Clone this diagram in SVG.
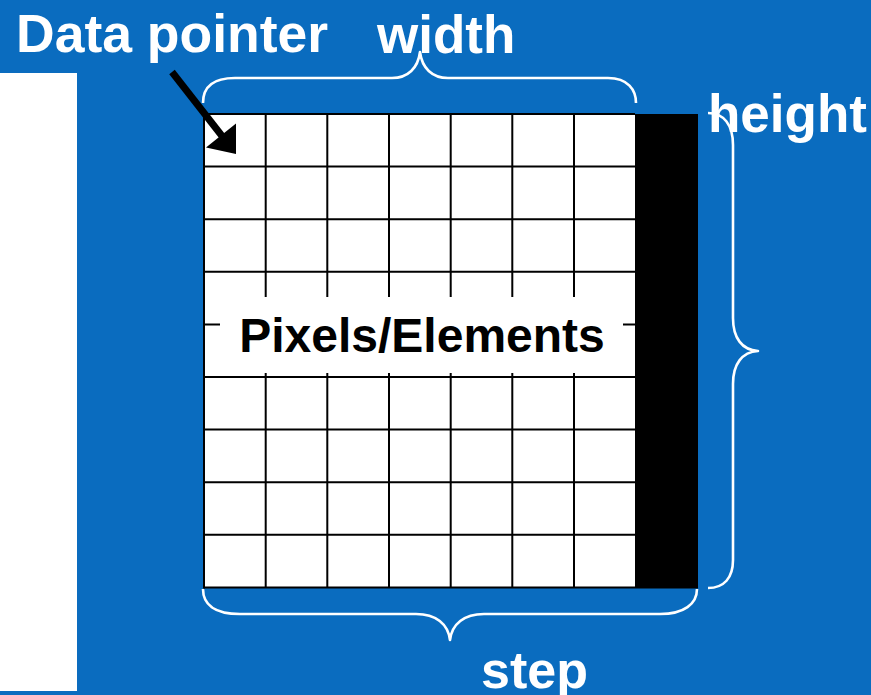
<svg xmlns="http://www.w3.org/2000/svg" width="871" height="695" viewBox="0 0 871 695">
  <style>
    .lbl { font-family: "Liberation Sans", Arial, sans-serif; font-weight: bold; }
    .white { fill: #ffffff; }
    .grid { stroke: #000000; stroke-width: 2; fill: none; }
    .brace { stroke: #ffffff; stroke-width: 2.6; fill: none; stroke-linejoin: round; }
  </style>

  <!-- background -->
  <rect x="0" y="0" width="871" height="695" fill="#0a6cbf"/>
  <rect x="0" y="73" width="77" height="618" fill="#ffffff"/>

  <!-- image buffer: pixel grid plus padding column -->
  <g id="buffer">
    <rect x="204" y="114" width="431" height="473" fill="#ffffff"/>
    <rect x="635" y="114" width="63" height="473" fill="#000000"/>
    <g class="grid">
      <!-- horizontal lines -->
      <path d="M204,114 H635 M204,166.6 H635 M204,219.2 H635 M204,271.8 H635 M204,324.4 H635 M204,377 H635 M204,429.6 H635 M204,482.2 H635 M204,534.8 H635 M204,587.4 H698"/>
      <!-- vertical lines -->
      <path d="M204,114 V588.4 M265.7,114 V587.4 M327.3,114 V587.4 M389,114 V587.4 M450.7,114 V587.4 M512.3,114 V587.4 M574,114 V587.4"/>
    </g>
    <rect x="220" y="297" width="403" height="76" fill="#ffffff"/>
    <text class="lbl" x="422" y="352" font-size="48" text-anchor="middle" fill="#000000">Pixels/Elements</text>
  </g>

  <!-- pointer to first element -->
  <g id="pointer">
    <line x1="172" y1="72" x2="222" y2="136" stroke="#000000" stroke-width="7"/>
    <polygon points="206,147.5 236,123.5 236,154" fill="#000000"/>
    <text class="lbl white" x="16" y="52" font-size="53.5">Data pointer</text>
  </g>

  <!-- dimension braces -->
  <g id="braces">
    <path class="brace" d="M203,103 C203,88 212,78 235,78 L392,78 C408,78 418,68 420,52 C422,68 432,78 448,78 L608,78 C628,78 636,90 636,103"/>
    <path class="brace" d="M708,113 C724,113 733,125 733,145 L733,318 C733,338 742,350 758,351 C742,352 733,364 733,384 L733,560 C733,578 724,588 708,588"/>
    <path class="brace" d="M203,589 C203,604 214,614 240,614 L416,614 C436,614 448,624 450,640 C452,624 464,614 484,614 L660,614 C684,614 697,604 697,589"/>
  </g>

  <g id="dimension-labels">
    <text class="lbl white" x="377" y="53" font-size="53">width</text>
    <text class="lbl white" x="708" y="132" font-size="53">height</text>
    <text class="lbl white" x="481" y="688" font-size="52">step</text>
  </g>
</svg>
